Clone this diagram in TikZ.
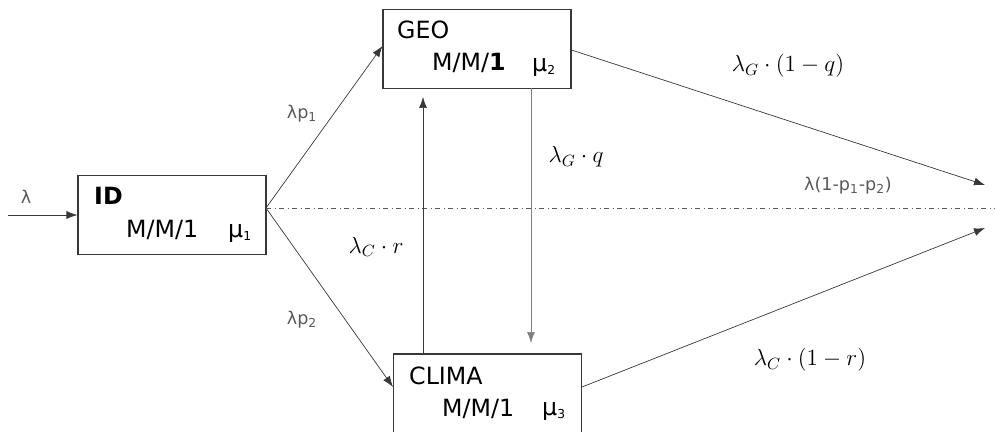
\RequirePackage{fix-cm}
\documentclass[tikz,border=0pt]{standalone}
\usepackage{fontspec}
\setmainfont{DejaVu Sans}
\usepackage{amsmath}
\usetikzlibrary{calc,arrows.meta}
\definecolor{linegray}{rgb}{0.22,0.22,0.22}
\definecolor{txtgray}{rgb}{0.35,0.35,0.35}

\begin{document}
\begin{tikzpicture}[x=0.02cm,y=-0.02cm,
    queue/.style={draw=linegray,semithick,rectangle,minimum width=3.76cm,minimum height=1.58cm},
    flow/.style={-{Latex[length=2.2mm,width=1.6mm]},linegray},
    boxtxt/.style={font=\fontsize{13.5}{15}\selectfont},
    ratetxt/.style={font=\fontsize{10}{12}\selectfont,txtgray},
    mathtxt/.style={font=\fontsize{13.2}{15}\selectfont}]
    \useasboundingbox (0,0) rectangle (995,432);
    \clip (0,0) rectangle (995,432);
    % Queue boxes
    \node[queue] (id) at (172,215) {};
    \node[queue] (geo) at (477,49) {};
    \node[queue,minimum height=1.8cm] (clima) at (487.5,399) {};
    % Box texts
    \node[boxtxt,anchor=west] (idname) at (88,196) {\textbf{ID}};
    \node[boxtxt,anchor=west] (idmm) at (120,230) {M/M/1};
    \node[boxtxt,anchor=west] (idmu) at (222,233) {μ\textsubscript{\scriptsize 1}};
    \node[boxtxt,anchor=west] (geoname) at (391,30) {GEO};
    \node[boxtxt,anchor=west] (geomm) at (426,63) {M/M/\textbf{1}};
    \node[boxtxt,anchor=west] (geomu) at (526,67) {μ\textsubscript{\scriptsize 2}};
    \node[boxtxt,anchor=west] (climaname) at (403,376) {CLIMA};
    \node[boxtxt,anchor=west] (climamm) at (436,409) {M/M/1};
    \node[boxtxt,anchor=west] (climamu) at (536,411) {μ\textsubscript{\scriptsize 3}};
    % Points
    \coordinate (src) at (8,215);
    \coordinate (split) at (266,208);
    \coordinate (sinkG) at (985,185);
    \coordinate (sinkC) at (985,228);
    \coordinate (sinkX) at (995,208);
    \coordinate (upfoot) at (423,354);
    \coordinate (uphead) at (423,97);
    \coordinate (downfoot) at (531,88);
    \coordinate (downhead) at (531,343);
    % Connectors
    \draw[flow] (src) -- (id.west);
    \draw[flow] (split) -- ($(geo.west)+(0,-3)$);
    \draw[flow] (split) -- ($(clima.west)+(0,-12)$);
    \draw[txtgray,thin,dash dot] (split) -- (sinkX);
    \draw[flow] (upfoot) -- (uphead);
    \draw[flow,gray] (downfoot) -- (downhead);
    \draw[flow] ($(geo.east)+(0,1)$) -- (sinkG);
    \draw[flow] ($(clima.east)+(0,-12)$) -- (sinkC);
    % Rate labels
    \node[ratetxt] (lin) at (26,197) {λ};
    \node[ratetxt] (lp1) at (302,114) {λp\textsubscript{1}};
    \node[ratetxt] (lp2) at (302,320) {λp\textsubscript{2}};
    \node[ratetxt] (lout) at (848,186) {λ(1-p\textsubscript{1}-p\textsubscript{2})};
    \node[mathtxt] (lgq) at (576,157) {$\lambda_G\cdot q$};
    \node[mathtxt] (lcr) at (376,247) {$\lambda_C\cdot r$};
    \node[mathtxt] (lgout) at (788,66) {$\lambda_G\cdot(1-q)$};
    \node[mathtxt] (lcout) at (810,360) {$\lambda_C\cdot(1-r)$};
\end{tikzpicture}
\end{document}
